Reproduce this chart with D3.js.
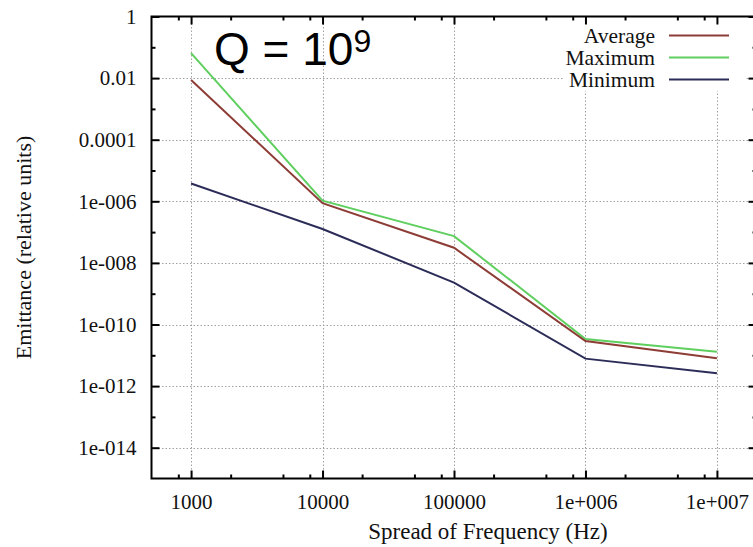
<!DOCTYPE html>
<html><head><meta charset="utf-8">
<script src="https://cdn.jsdelivr.net/npm/d3@7"></script>
<style>body{margin:0;background:#fff}svg{display:block}</style>
</head><body>
<script>
const frequencies = [1000, 10000, 100000, 1000000, 10000000];
const averageValues = [0.0087, 8.7e-7, 3.1e-8, 2.9e-11, 8e-12];
const maximumValues = [0.065, 1.05e-6, 7.4e-8, 3.4e-11, 1.3e-11];
const minimumValues = [3.8e-6, 1.26e-7, 2.3e-9, 7.8e-12, 2.6e-12];
const seriesNames = ["Average", "Maximum", "Minimum"];
const seriesColors = ["#8e3d36", "#5fcf5f", "#2c2c58"];
const xTickValues = [1000, 10000, 100000, 1000000, 10000000];
const xTickLabels = ["1000", "10000", "100000", "1e+006", "1e+007"];
const yTickValues = [1, 1e-2, 1e-4, 1e-6, 1e-8, 1e-10, 1e-12, 1e-14];
const yTickLabels = ["1", "0.01", "0.0001", "1e-006", "1e-008", "1e-010", "1e-012", "1e-014"];
const xMinorTicks = [800, 2000, 5000, 8000, 20000, 50000, 80000, 200000, 500000, 800000, 2000000, 5000000, 8000000];
const yMinorTicks = [1e-1, 1e-3, 1e-5, 1e-7, 1e-9, 1e-11, 1e-13];

const W = 753, H = 547;
const L = 151.5, R = 756.5, T = 16.5, B = 478.5;
const svg = d3.select("body").append("svg").attr("width", W).attr("height", H);
const x = d3.scaleLog().domain([500, 2e7]).range([L, R]);
const y = d3.scaleLog().domain([1e-15, 1]).range([B, T]);
const serif = "'Liberation Serif','Times New Roman',serif";

// grid
const grid = svg.append("g").attr("stroke", "#a0a0a0").attr("stroke-width", 1).attr("stroke-dasharray", "1.5,2");
grid.selectAll(".gx").data(xTickValues).join("line")
  .attr("x1", d => Math.round(x(d)) + 0.5).attr("x2", d => Math.round(x(d)) + 0.5).attr("y1", T).attr("y2", B);
grid.selectAll(".gy").data(yTickValues.filter(v => v < 1)).join("line")
  .attr("y1", d => Math.round(y(d)) + 0.5).attr("y2", d => Math.round(y(d)) + 0.5).attr("x1", L).attr("x2", R);

// lines
const series = [averageValues, maximumValues, minimumValues];
const line = d3.line().x((d, i) => x(frequencies[i])).y(d => y(d));
const plot = svg.append("g");
[1, 0, 2].forEach(k => {
  plot.append("path").datum(series[k]).attr("d", line).attr("fill", "none")
    .attr("stroke", seriesColors[k]).attr("stroke-width", 2).attr("stroke-linejoin", "miter");
});

// legend
const leg = svg.append("g");
leg.append("rect").attr("x", 563).attr("y", T + 1.5).attr("width", 182).attr("height", 73).attr("fill", "#fff");
seriesNames.forEach((n, i) => {
  const cy = 35 + i * 22;
  leg.append("text").attr("x", 655).attr("y", cy).attr("dy", "0.35em").attr("text-anchor", "end")
    .attr("font-family", serif).attr("font-size", 21.5).attr("fill", "#111").text(n);
  leg.append("line").attr("x1", 669).attr("x2", 729).attr("y1", cy + 0.5).attr("y2", cy + 0.5)
    .attr("stroke", seriesColors[i]).attr("stroke-width", 2);
});

// axes with ticks (mirrored)
const axBottom = d3.axisBottom(x).tickValues(xTickValues).tickFormat((d, i) => xTickLabels[i]).tickSize(-8).tickPadding(16);
const axTop = d3.axisTop(x).tickValues(xTickValues).tickFormat("").tickSize(-8);
const axLeft = d3.axisLeft(y).tickValues(yTickValues).tickFormat((d, i) => yTickLabels[i]).tickSize(-8).tickPadding(15);
const axRight = d3.axisRight(y).tickValues(yTickValues).tickFormat("").tickSize(-8);
const gB = svg.append("g").attr("transform", `translate(0,${B})`).call(axBottom);
const gT = svg.append("g").attr("transform", `translate(0,${T})`).call(axTop);
const gL = svg.append("g").attr("transform", `translate(${L},0)`).call(axLeft);
const gR = svg.append("g").attr("transform", `translate(${R},0)`).call(axRight);
[gB, gT, gL, gR].forEach(g => {
  g.select(".domain").remove();
  g.selectAll(".tick line").attr("stroke", "#000").attr("stroke-width", 2);
  g.selectAll("text").attr("font-family", serif).attr("font-size", 21).attr("fill", "#111");
});
gB.selectAll("text").attr("dy", "0.71em");
// minor ticks
const minB = d3.axisBottom(x).tickValues(xMinorTicks).tickFormat("").tickSize(-4);
const minT = d3.axisTop(x).tickValues(xMinorTicks).tickFormat("").tickSize(-4);
const minL = d3.axisLeft(y).tickValues(yMinorTicks).tickFormat("").tickSize(-4);
const minR = d3.axisRight(y).tickValues(yMinorTicks).tickFormat("").tickSize(-4);
[[minB, `translate(0,${B})`], [minT, `translate(0,${T})`], [minL, `translate(${L},0)`], [minR, `translate(${R},0)`]].forEach(([a, t]) => {
  const g = svg.append("g").attr("transform", t).call(a);
  g.select(".domain").remove();
  g.selectAll(".tick line").attr("stroke", "#000").attr("stroke-width", 2);
});

// border
svg.append("rect").attr("x", L).attr("y", T).attr("width", R - L).attr("height", B - T)
  .attr("fill", "none").attr("stroke", "#000").attr("stroke-width", 2);

// titles
svg.append("text").attr("x", 488).attr("y", 539).attr("text-anchor", "middle")
  .attr("font-family", serif).attr("font-size", 23).attr("fill", "#111").text("Spread of Frequency (Hz)");
svg.append("text").attr("transform", `translate(31,${(T + B) / 2}) rotate(-90)`).attr("text-anchor", "middle")
  .attr("font-family", serif).attr("font-size", 22).attr("fill", "#111").text("Emittance (relative units)");

// Q label
const q = svg.append("text").attr("x", 214).attr("y", 65)
  .attr("font-family", "'Liberation Sans',Arial,sans-serif").attr("font-size", 46).attr("fill", "#000");
q.append("tspan").text("Q = 10");
q.append("tspan").attr("font-size", 32).attr("dy", -13).text("9");
</script>
</body></html>
